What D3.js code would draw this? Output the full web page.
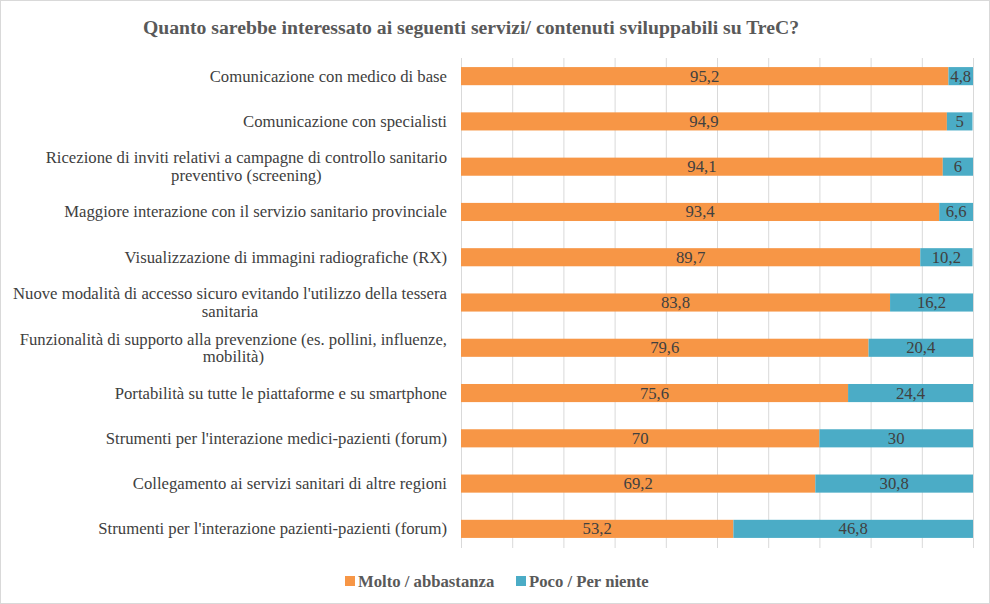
<!DOCTYPE html>
<html><head><meta charset="utf-8">
<script src="https://cdn.jsdelivr.net/npm/d3@7"></script>
<style>body{margin:0;background:#fff}</style>
</head><body>
<svg id="c" width="990" height="604"></svg>
<script>
const categories = [
  "Comunicazione con medico di base",
  "Comunicazione con specialisti",
  "Ricezione di inviti relativi a campagne di controllo sanitario preventivo (screening)",
  "Maggiore interazione con il servizio sanitario provinciale",
  "Visualizzazione di immagini radiografiche (RX)",
  "Nuove modalità di accesso sicuro evitando l'utilizzo della tessera sanitaria",
  "Funzionalità di supporto alla prevenzione (es. pollini, influenze, mobilità)",
  "Portabilità su tutte le piattaforme e su smartphone",
  "Strumenti per l'interazione medici-pazienti (forum)",
  "Collegamento ai servizi sanitari di altre regioni",
  "Strumenti per l'interazione pazienti-pazienti (forum)"
];
const molto = [95.2, 94.9, 94.1, 93.4, 89.7, 83.8, 79.6, 75.6, 70, 69.2, 53.2];
const poco  = [4.8, 5, 6, 6.6, 10.2, 16.2, 20.4, 24.4, 30, 30.8, 46.8];
const seriesNames = ["Molto / abbastanza", "Poco / Per niente"];
const colors = ["#F79646", "#4BACC6"];
const xTicks = [0,10,20,30,40,50,60,70,80,90,100];

const svg = d3.select("#c");
const W = 990, H = 604;
const serif = "'Liberation Serif','Times New Roman',serif";
const FS = 16.7;
svg.append("rect").attr("x",0.5).attr("y",0.5).attr("width",W-1).attr("height",H-1)
  .attr("fill","#fff").attr("stroke","#D9D9D9");

svg.append("text").attr("x",471).attr("y",34).attr("text-anchor","middle")
  .attr("font-family",serif).attr("font-weight","bold").attr("font-size",19.7)
  .attr("fill","#595959").text("Quanto sarebbe interessato ai seguenti servizi/ contenuti sviluppabili su TreC?");

const x = d3.scaleLinear().domain([0,100]).range([461,973]);
const y = d3.scaleBand().domain(categories).range([53.5,551.5]).paddingInner(0.6).paddingOuter(0.3);

// gridlines
svg.append("g").selectAll("line").data(xTicks).join("line")
  .attr("x1",d=>x(d)+0.5).attr("x2",d=>x(d)+0.5).attr("y1",58).attr("y2",548)
  .attr("stroke","#D9D9D9").attr("stroke-width",1);

svg.append("clipPath").attr("id","clip").append("rect")
  .attr("x",x(0)).attr("y",0).attr("width",x(100)-x(0)+1).attr("height",H);

const stackData = categories.map((c,i)=>({cat:c, molto:molto[i], poco:poco[i]}));
const stack = d3.stack().keys(["molto","poco"])(stackData);
const g = svg.append("g").attr("clip-path","url(#clip)");
stack.forEach((s,si)=>{
  g.selectAll(null).data(s).join("rect")
    .attr("x",d=>x(d[0])).attr("width",d=>Math.max(0,x(Math.min(d[1],100))-x(d[0])))
    .attr("y",d=>y(d.data.cat)).attr("height",y.bandwidth())
    .attr("fill",colors[si]);
  svg.selectAll(null).data(s).join("text")
    .attr("x",d=>(x(d[0])+x(Math.min(d[1],100)))/2)
    .attr("y",d=>y(d.data.cat)+y.bandwidth()/2+5.5)
    .attr("text-anchor","middle").attr("font-family",serif).attr("font-size",FS)
    .attr("fill","#404040")
    .text(d=>String(si===0?d.data.molto:d.data.poco).replace(".",","));
});

// category labels with wrapping
const maxW = 442, rightX = 447, lh = 17.5;
const meas = svg.append("text").attr("font-family",serif).attr("font-size",FS);
function wrap(t){
  const words = t.split(" "); const lines=[]; let cur="";
  for(const w of words){
    const test = cur? cur+" "+w : w;
    meas.text(test);
    if(meas.node().getComputedTextLength()>maxW && cur){ lines.push(cur); cur=w; } else cur=test;
  }
  lines.push(cur); return lines;
}
categories.forEach(c=>{
  const lines = wrap(c);
  const widths = lines.map(l=>{meas.text(l); return meas.node().getComputedTextLength();});
  const bw = d3.max(widths);
  const cx = rightX - bw/2;
  const cy = y(c)+y.bandwidth()/2;
  const t = svg.append("text").attr("font-family",serif).attr("font-size",FS).attr("fill","#404040")
    .attr("text-anchor","middle");
  lines.forEach((l,i)=>{
    t.append("tspan").attr("x",cx).attr("y",cy + 5.5 + (i-(lines.length-1)/2)*lh).text(l);
  });
});
meas.remove();

// legend
const leg = svg.append("g");
const legX = [345, 516];
seriesNames.forEach((n,i)=>{
  leg.append("rect").attr("x",legX[i]).attr("y",576).attr("width",10).attr("height",10).attr("fill",colors[i]);
  leg.append("text").attr("x",legX[i]+13).attr("y",587).attr("font-family",serif).attr("font-weight","bold")
    .attr("font-size",FS).attr("fill","#595959").text(n);
});
</script>
</body></html>
